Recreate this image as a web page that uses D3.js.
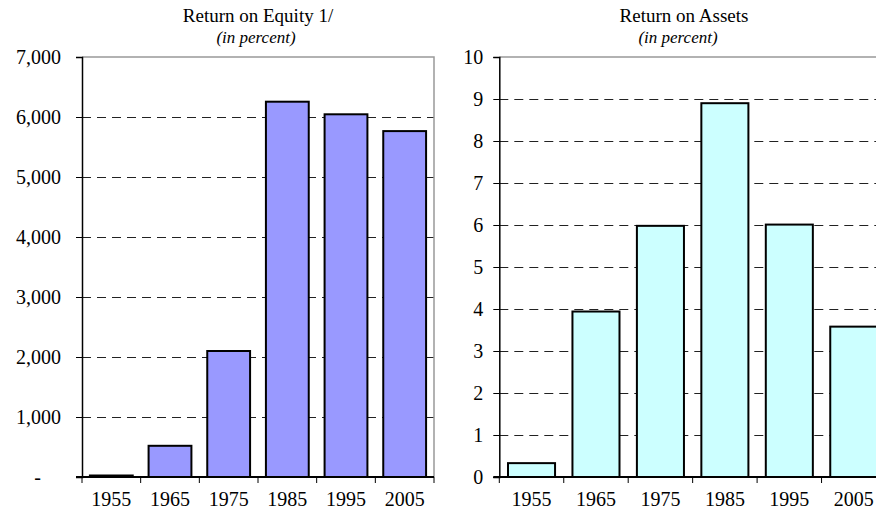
<!DOCTYPE html>
<html>
<head>
<meta charset="utf-8">
<script src="https://cdn.jsdelivr.net/npm/d3@7"></script>
<style>
  body { margin: 0; background: #fff; }
  text { font-family: "Liberation Serif", "Times New Roman", serif; fill: #000; }
</style>
</head>
<body>
<div id="chart"></div>
<script>
// data
const years = ["1955", "1965", "1975", "1985", "1995", "2005"];
const equityValues = [25, 520, 2100, 6255, 6045, 5765];
const assetsValues = [0.33, 3.94, 5.98, 8.9, 6.01, 3.58];
const equityTicks = [0, 1000, 2000, 3000, 4000, 5000, 6000, 7000];
const assetsTicks = [0, 1, 2, 3, 4, 5, 6, 7, 8, 9, 10];

let svg = d3.select("#chart").append("svg")
  .attr("width", 876).attr("height", 516);

function draw_panel(opts)
{
  let g = svg.append("g");

  let x = d3.scaleBand().domain(years)
    .range([opts.left, opts.right])
    .paddingInner(0.27).paddingOuter(0.135);
  let y = d3.scaleLinear().domain([0, d3.max(opts.ticks)])
    .range([477, 57]);

  // dashed grid lines
  g.selectAll(".grid").data(opts.ticks.slice(1, -1)).enter().append("line")
    .attr("x1", opts.left).attr("x2", opts.right)
    .attr("y1", d => Math.round(y(d)) + 0.5).attr("y2", d => Math.round(y(d)) + 0.5)
    .attr("stroke", "#222").attr("stroke-width", 1)
    .attr("stroke-dasharray", "9,6");

  // gray frame top + right
  g.append("path")
    .attr("d", `M${opts.left},${y(d3.max(opts.ticks))}H${opts.right}V${y(0)}`)
    .attr("fill", "none").attr("stroke", "#999").attr("stroke-width", 1.5);

  // bars
  g.selectAll(".bar").data(opts.values).enter().append("rect")
    .attr("x", (d, i) => x(years[i]))
    .attr("width", x.bandwidth())
    .attr("y", d => y(d))
    .attr("height", d => y(0) - y(d))
    .attr("fill", opts.color)
    .attr("stroke", "#000").attr("stroke-width", 2);

  // y axis
  let yAxis = d3.axisLeft(y).tickValues(opts.ticks).tickSize(6)
    .tickFormat(opts.format).tickPadding(opts.pad);
  let ya = g.append("g").attr("transform", `translate(${opts.left},0)`).call(yAxis);
  ya.select(".domain").attr("stroke", "#000").attr("stroke-width", 1.5);
  ya.selectAll(".tick line").attr("stroke", "#000");
  ya.selectAll("text").attr("font-size", 20)
    .attr("font-family", "Liberation Serif").attr("fill", "#000");
  ya.selectAll(".tick text").filter(d => d === 0 && opts.zeroDash)
    .attr("dx", -20);

  // x axis line + tick marks on band edges
  g.append("line")
    .attr("x1", opts.left - 6).attr("x2", opts.right)
    .attr("y1", y(0)).attr("y2", y(0))
    .attr("stroke", "#000").attr("stroke-width", 2);
  let edges = d3.range(years.length + 1).map(i => opts.left + i * x.step());
  g.selectAll(".xtick").data(edges).enter().append("line")
    .attr("x1", d => d).attr("x2", d => d)
    .attr("y1", y(0)).attr("y2", y(0) + 6)
    .attr("stroke", "#000").attr("stroke-width", 1);
  g.selectAll(".xlabel").data(years).enter().append("text")
    .attr("x", d => x(d) + x.bandwidth() / 2)
    .attr("y", 506)
    .attr("text-anchor", "middle").attr("font-size", 20)
    .text(d => d);

  // titles
  g.append("text").attr("x", opts.titleX).attr("y", 22)
    .attr("text-anchor", "middle").attr("font-size", 19)
    .text(opts.title);
  g.append("text").attr("x", opts.subX).attr("y", 43)
    .attr("text-anchor", "middle").attr("font-size", 17)
    .attr("font-style", "italic")
    .text("(in percent)");
}

draw_panel({
  left: 82, right: 434,
  values: equityValues, ticks: equityTicks,
  color: "#9999ff",
  format: d => d === 0 ? "-" : d3.format(",")(d),
  zeroDash: true, pad: 15,
  title: "Return on Equity 1/", titleX: 258, subX: 256
});

draw_panel({
  left: 499.3, right: 886,
  values: assetsValues, ticks: assetsTicks,
  color: "#ccffff",
  format: d3.format("d"),
  zeroDash: false, pad: 10,
  title: "Return on Assets", titleX: 684, subX: 678
});
</script>
</body>
</html>
